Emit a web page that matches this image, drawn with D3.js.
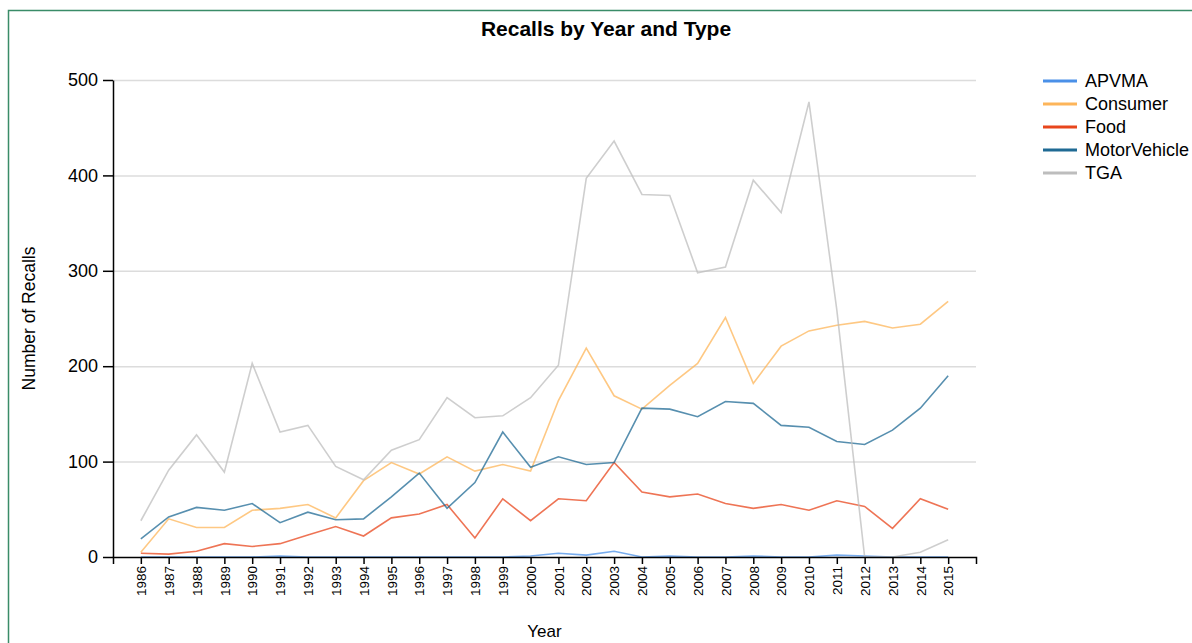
<!DOCTYPE html>
<html>
<head>
<meta charset="utf-8">
<script src="https://d3js.org/d3.v7.min.js"></script>
<style>
  body { margin: 0; background: #fff; }
  svg { display: block; font-family: "Liberation Sans", Arial, sans-serif; }
  .grid line { stroke: #dcdcdc; stroke-width: 1.5; }
  .grid .domain { display: none; }
  .axis path, .axis line { stroke: #000; stroke-width: 1.5; }
  .line { fill: none; stroke-width: 1.6; stroke-opacity: 0.75; }
</style>
</head>
<body>
<div class="svg-container"></div>
<script>
var years = d3.range(1986, 2016).map(String);

var series_names = ["APVMA", "Consumer", "Food", "MotorVehicle", "TGA"];
var series_colors = ["#4a90e8", "#fdb55a", "#e8461c", "#1f6a94", "#bdbdbd"];

var apvma = [0, 0, 0, 0, 0, 1, 0, 0, 0, 0, 0, 0, 0, 0, 1, 4, 2, 6, 0, 1,
             0, 0, 1, 0, 0, 2, 1, 0, 0, 0];
var consumer = [5, 40, 31, 31, 49, 51, 55, 41, 80, 99, 87, 105, 90, 97, 90, 164, 219, 169, 155, 180,
                203, 251, 182, 221, 237, 243, 247, 240, 244, 268];
var food = [4, 3, 6, 14, 11, 14, 23, 32, 22, 41, 45, 55, 20, 61, 38, 61, 59, 99, 68, 63,
            66, 56, 51, 55, 49, 59, 53, 30, 61, 50];
var motor = [19, 42, 52, 49, 56, 36, 47, 39, 40, 63, 88, 51, 78, 131, 94, 105, 97, 99, 156, 155,
             147, 163, 161, 138, 136, 121, 118, 133, 156, 190];
var tga = [38, 91, 128, 89, 203, 131, 138, 95, 81, 112, 123, 167, 146, 148, 167, 201, 397, 436, 380, 379,
           298, 304, 395, 361, 477, 259, 0, 0, 5, 18];

var y_ticks = [0, 100, 200, 300, 400, 500];

var series = [apvma, consumer, food, motor, tga].map(function (vals, k) {
    return {
        name: series_names[k],
        color: series_colors[k],
        values: vals.map(function (v, i) { return {year: years[i], value: v}; })
    };
});

var fullWidth = 1192,
    fullHeight = 643;
var margin = {top: 80, left: 113},
    plotRight = 976,
    plotBottom = 557;

var svg = d3.select(".svg-container")
    .append("svg")
    .attr("width", fullWidth)
    .attr("height", fullHeight);

// frame round the figure
svg.append("rect")
    .attr("x", 8.5)
    .attr("y", 10.5)
    .attr("width", 1300)
    .attr("height", 800)
    .attr("fill", "none")
    .attr("stroke", "#3a8c68")
    .attr("stroke-width", 1.5);

var x = d3.scalePoint()
    .domain(years)
    .range([margin.left, plotRight])
    .padding(1);

var y = d3.scaleLinear()
    .domain([0, 500])
    .range([plotBottom, margin.top]);

// gridlines
svg.append("g")
    .attr("class", "grid")
    .attr("transform", "translate(" + margin.left + ",0)")
    .call(d3.axisLeft(y).tickValues(y_ticks.slice(1))
        .tickSize(-(plotRight - margin.left)).tickFormat(""));

// lines
var line = d3.line()
    .x(function (d) { return x(d.year); })
    .y(function (d) { return y(d.value); });

svg.selectAll(".line")
    .data(series)
    .enter()
    .append("path")
    .attr("class", "line")
    .attr("stroke", function (d) { return d.color; })
    .attr("d", function (d) { return line(d.values); });

// axes
var y_axis = svg.append("g")
    .attr("class", "axis")
    .attr("transform", "translate(" + margin.left + ",0)")
    .call(d3.axisLeft(y).tickValues(y_ticks).tickSize(10).tickSizeOuter(0).tickPadding(5));
y_axis.selectAll("text")
    .style("font-size", "18px")
    .attr("fill", "#000");

var x_axis = svg.append("g")
    .attr("class", "axis")
    .attr("transform", "translate(0," + plotBottom + ")")
    .call(d3.axisBottom(x).tickSize(7).tickSizeOuter(7));
x_axis.selectAll("text")
    .style("font-size", "13.5px")
    .attr("fill", "#000")
    .attr("transform", "rotate(-90)")
    .attr("text-anchor", "end")
    .attr("x", -9)
    .attr("y", 0)
    .attr("dy", "0.35em");

// titles
svg.append("text")
    .attr("x", 606)
    .attr("y", 36)
    .attr("text-anchor", "middle")
    .style("font-size", "21px")
    .style("font-weight", "bold")
    .text("Recalls by Year and Type");

svg.append("text")
    .attr("transform", "translate(35," + (plotBottom + margin.top) / 2 + ") rotate(-90)")
    .attr("text-anchor", "middle")
    .style("font-size", "17.5px")
    .text("Number of Recalls");

svg.append("text")
    .attr("x", (margin.left + plotRight) / 2)
    .attr("y", 637)
    .attr("text-anchor", "middle")
    .style("font-size", "17px")
    .text("Year");

// legend
var legend = svg.selectAll(".legend")
    .data(series)
    .enter()
    .append("g")
    .attr("class", "legend")
    .attr("transform", function (d, i) { return "translate(1043," + (81 + i * 23) + ")"; });

legend.append("line")
    .attr("x1", 0)
    .attr("x2", 34)
    .attr("stroke", function (d) { return d.color; })
    .attr("stroke-width", 3);

legend.append("text")
    .attr("x", 42)
    .attr("dy", "0.35em")
    .style("font-size", "18px")
    .text(function (d) { return d.name; });
</script>
</body>
</html>
